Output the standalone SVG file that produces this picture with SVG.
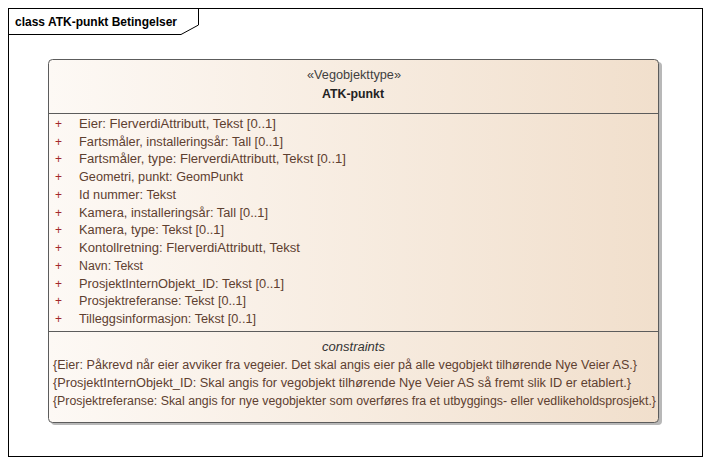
<svg xmlns="http://www.w3.org/2000/svg" width="710" height="465" viewBox="0 0 710 465">
<defs>
<linearGradient id="g" x1="0" y1="0" x2="1" y2="0">
<stop offset="0" stop-color="#fdf9f5"/>
<stop offset="1" stop-color="#f1dfcc"/>
</linearGradient>
<style>
text{font-family:"Liberation Sans",Arial,sans-serif;font-size:12px;fill:#5e4030}
.plus{fill:#a3282c}
.title{font-size:13px;fill:#000;font-weight:bold}
.st{fill:#3f3f3f;text-anchor:middle}
.nm{fill:#222;font-weight:bold;text-anchor:middle;font-size:12.5px}
.it{font-style:italic;text-anchor:middle;fill:#333}
</style>
</defs>
<rect width="710" height="465" fill="#fff"/>
<g id="frame">
<rect x="8.5" y="8.5" width="694" height="448" fill="none" stroke="#000" stroke-width="1"/>
<path d="M8.5 34.5 H181 L198.5 25 V8.5" fill="none" stroke="#000" stroke-width="1"/>
<text class="title" x="15" y="26" textLength="162" lengthAdjust="spacingAndGlyphs">class ATK-punkt Betingelser</text>
</g>
<g id="atk-punkt">
<rect x="51" y="62" width="611" height="363" rx="4" fill="#b8b8b8"/>
<rect x="48.5" y="59.5" width="610" height="363" rx="4" fill="url(#g)" stroke="#5c5c5c" stroke-width="1"/>
<line x1="48.5" y1="113.5" x2="658.5" y2="113.5" stroke="#5c5c5c"/>
<line x1="48.5" y1="331.5" x2="658.5" y2="331.5" stroke="#5c5c5c"/>
<text class="st" x="354" y="79" textLength="94" lengthAdjust="spacingAndGlyphs">«Vegobjekttype»</text>
<text class="nm" x="353" y="97.5" textLength="62" lengthAdjust="spacingAndGlyphs">ATK-punkt</text>
<g>
<text class="plus" x="55" y="127.5">+</text><text x="79" y="127.5" textLength="197" lengthAdjust="spacingAndGlyphs">Eier: FlerverdiAttributt, Tekst [0..1]</text>
<text class="plus" x="55" y="145.5">+</text><text x="79" y="145.5" textLength="204" lengthAdjust="spacingAndGlyphs">Fartsmåler, installeringsår: Tall [0..1]</text>
<text class="plus" x="55" y="163">+</text><text x="79" y="163" textLength="267" lengthAdjust="spacingAndGlyphs">Fartsmåler, type: FlerverdiAttributt, Tekst [0..1]</text>
<text class="plus" x="55" y="181">+</text><text x="79" y="181" textLength="164" lengthAdjust="spacingAndGlyphs">Geometri, punkt: GeomPunkt</text>
<text class="plus" x="55" y="198.5">+</text><text x="79" y="198.5" textLength="97" lengthAdjust="spacingAndGlyphs">Id nummer: Tekst</text>
<text class="plus" x="55" y="216.5">+</text><text x="79" y="216.5" textLength="189" lengthAdjust="spacingAndGlyphs">Kamera, installeringsår: Tall [0..1]</text>
<text class="plus" x="55" y="234">+</text><text x="79" y="234" textLength="145" lengthAdjust="spacingAndGlyphs">Kamera, type: Tekst [0..1]</text>
<text class="plus" x="55" y="252">+</text><text x="79" y="252" textLength="221" lengthAdjust="spacingAndGlyphs">Kontollretning: FlerverdiAttributt, Tekst</text>
<text class="plus" x="55" y="269.5">+</text><text x="79" y="269.5" textLength="64" lengthAdjust="spacingAndGlyphs">Navn: Tekst</text>
<text class="plus" x="55" y="287.5">+</text><text x="79" y="287.5" textLength="205" lengthAdjust="spacingAndGlyphs">ProsjektInternObjekt_ID: Tekst [0..1]</text>
<text class="plus" x="55" y="305">+</text><text x="79" y="305" textLength="167" lengthAdjust="spacingAndGlyphs">Prosjektreferanse: Tekst [0..1]</text>
<text class="plus" x="55" y="323">+</text><text x="79" y="323" textLength="177" lengthAdjust="spacingAndGlyphs">Tilleggsinformasjon: Tekst [0..1]</text>
</g>
<text class="it" x="353.5" y="351" textLength="63" lengthAdjust="spacingAndGlyphs">constraints</text>
<text x="53" y="369" textLength="584" lengthAdjust="spacingAndGlyphs">{Eier: Påkrevd når eier avviker fra vegeier. Det skal angis eier på alle vegobjekt tilhørende Nye Veier AS.}</text>
<text x="53" y="387" textLength="578" lengthAdjust="spacingAndGlyphs">{ProsjektInternObjekt_ID: Skal angis for vegobjekt tilhørende Nye Veier AS så fremt slik ID er etablert.}</text>
<text x="53" y="404.5" textLength="603" lengthAdjust="spacingAndGlyphs">{Prosjektreferanse: Skal angis for nye vegobjekter som overføres fra et utbyggings- eller vedlikeholdsprosjekt.}</text>
</g>
</svg>
